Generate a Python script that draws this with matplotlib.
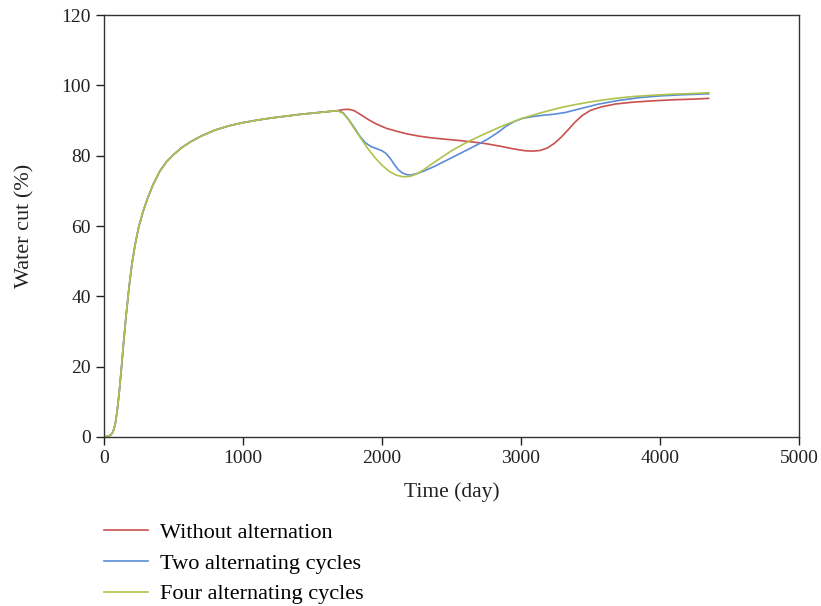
import matplotlib
matplotlib.use("Agg")
import matplotlib.pyplot as plt

plt.rcParams['font.family'] = ['Liberation Serif', 'DejaVu Serif']

# shared early-time water cut curve (day, %)
early_days = [0, 30, 50, 65, 80, 95, 110, 125, 140, 160, 180, 200, 225, 250, 280,
              310, 350, 400, 450, 500, 560, 620, 700, 800, 900, 1000, 1100, 1200,
              1300, 1400, 1500, 1600, 1680]
early_cut = [0.0, 0.2, 0.6, 1.5, 3.5, 7.5, 13.0, 19.5, 26.5, 35.0, 42.5, 49.0, 55.0,
             59.8, 64.0, 67.5, 71.5, 75.5, 78.3, 80.3, 82.3, 83.9, 85.6, 87.3, 88.5,
             89.4, 90.1, 90.7, 91.2, 91.7, 92.1, 92.5, 92.8]

# after the switch point
red_days = [1720, 1760, 1800, 1850, 1900, 1960, 2030, 2100, 2180, 2260, 2350, 2450,
            2560, 2650, 2750, 2850, 2950, 3030, 3090, 3140, 3190, 3240, 3290, 3340,
            3390, 3440, 3500, 3580, 3680, 3800, 3950, 4100, 4250, 4350]
red_cut = [93.1, 93.2, 92.8, 91.6, 90.3, 89.0, 87.8, 87.0, 86.2, 85.6, 85.1, 84.7,
           84.3, 83.9, 83.4, 82.7, 81.9, 81.4, 81.3, 81.5, 82.2, 83.5, 85.3, 87.4,
           89.6, 91.4, 92.9, 93.9, 94.7, 95.2, 95.6, 95.9, 96.1, 96.3]

blue_days = [1720, 1760, 1800, 1840, 1880, 1920, 1960, 2000, 2030, 2060, 2090, 2120,
             2150, 2180, 2210, 2250, 2300, 2380, 2480, 2580, 2680, 2760, 2830, 2890,
             2950, 3010, 3080, 3160, 3240, 3320, 3420, 3550, 3700, 3850, 4000, 4150,
             4350]
blue_cut = [92.2, 90.3, 88.0, 85.6, 83.7, 82.6, 82.0, 81.4, 80.6, 79.2, 77.4, 75.9,
            75.0, 74.6, 74.5, 74.9, 75.6, 77.0, 79.0, 81.0, 83.0, 84.7, 86.5, 88.3,
            89.7, 90.6, 91.1, 91.5, 91.8, 92.3, 93.3, 94.6, 95.7, 96.5, 97.0, 97.3,
            97.6]

green_days = [1720, 1760, 1800, 1850, 1900, 1950, 2000, 2050, 2100, 2150, 2200, 2250,
              2300, 2360, 2420, 2500, 2600, 2700, 2800, 2900, 3000, 3100, 3200, 3300,
              3400, 3500, 3600, 3700, 3800, 3950, 4100, 4250, 4350]
green_cut = [92.0, 90.2, 87.7, 84.8, 81.9, 79.4, 77.3, 75.6, 74.5, 74.0, 74.1, 74.8,
             76.0, 77.7, 79.3, 81.4, 83.6, 85.5, 87.3, 89.0, 90.5, 91.7, 92.8, 93.8,
             94.6, 95.3, 95.9, 96.4, 96.8, 97.2, 97.5, 97.7, 97.9]

labels = ["Without alternation", "Two alternating cycles", "Four alternating cycles"]
colors = ["#C9514E", "#5B8DD6", "#AFC24C"]

fig = plt.figure(figsize=(8.21, 6.06), dpi=100)
ax = fig.add_axes([0.1267, 0.2789, 0.8465, 0.6963])

for days, cut, lab, col in zip([red_days, blue_days, green_days],
                               [red_cut, blue_cut, green_cut], labels, colors):
    ax.plot(early_days + days, early_cut + cut, color=col, lw=1.2, label=lab)

ax.set_xlim(0, 5000)
ax.set_ylim(0, 120)
ax.set_xticks(range(0, 5001, 1000))
ax.set_yticks(range(0, 121, 20))
ax.tick_params(direction='out', length=6, width=1, labelsize=14, colors='#222222')
ax.tick_params(top=False, right=False)
for sp in ax.spines.values():
    sp.set_color('#333333')
    sp.set_linewidth(1.0)

ax.set_xlabel("Time (day)", fontsize=15.5, color='#222222')
ax.set_ylabel("Water cut (%)", fontsize=16, color='#222222')
ax.xaxis.set_label_coords(0.5, -0.107)
ax.yaxis.set_label_coords(-0.1, 0.5)

ax.legend(loc='upper left', bbox_to_anchor=(0.0, -0.202), frameon=False,
          fontsize=16, handlelength=2.0, handletextpad=0.5, labelspacing=0.46,
          borderaxespad=0, borderpad=0)

fig.savefig("out.png", dpi=100)
